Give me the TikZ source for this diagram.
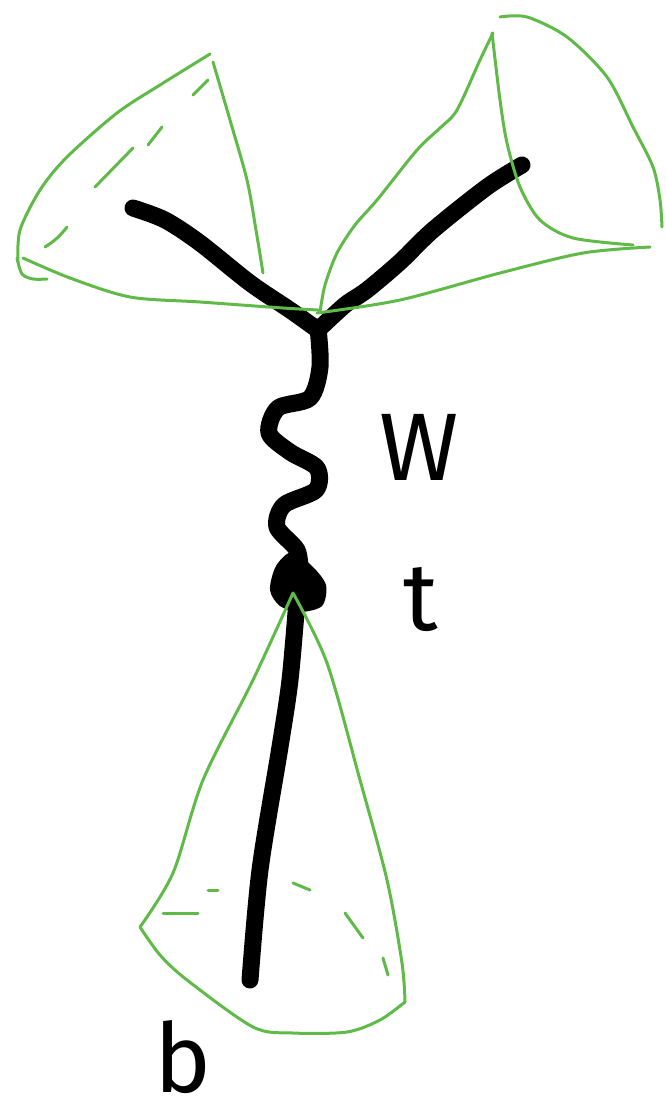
\documentclass[tikz,border=0pt]{standalone}
\usepackage{fontspec}
\setmainfont{Fira Sans}
\definecolor{conegreen}{RGB}{96,186,72}
\begin{document}
\begin{tikzpicture}[x=1pt,y=-1pt,
  quark/.style={line width=17pt,line cap=round,line join=round},
  cone/.style={conegreen,line width=3pt,line cap=round,line join=round},
  lbl/.style={font=\fontsize{96}{96}\selectfont,inner sep=0pt}]
\useasboundingbox (0,0) rectangle (665,1107);

% --- black particle lines ---
\draw[quark] plot[smooth] coordinates {(133,208) (165,220) (200,243) (250,283) (290,310) (318,330)};
\draw[quark] plot[smooth] coordinates {(318,330) (345,305) (367,290) (400,262) (433,230) (487,187) (522,165)};
\draw[quark] plot[smooth] coordinates {(318,328) (320,367) (310,398) (278,408) (269,433) (290,452) (317,468) (316,490) (284,505) (277,527) (297,550) (300,572)};
% top-quark blob
\fill plot[smooth cycle] coordinates {(292,552) (312,566) (326,585) (322,606) (300,612) (280,606) (270,590) (276,566)};
\draw[quark] plot[smooth] coordinates {(297,600) (290,680) (280,747) (260,870) (250,980)};

% --- upper left cone ---
\draw[cone] plot[smooth] coordinates {(318,310) (283,308) (200,302) (130,297) (70,278) (23,258)};
\draw[cone] plot[smooth] coordinates {(17,258) (22,274) (33,279) (47,279)};
\draw[cone] plot[smooth] coordinates {(18,262) (20,230) (40,190) (67,157) (117,113) (160,85) (210,54)};
\draw[cone] plot[smooth] coordinates {(213,62) (230,120) (247,180) (256,230) (263,273)};
\draw[cone] (193,95) -- (208,80);
\draw[cone] (148,145) -- (162,127);
\draw[cone] (95,187) -- (133,148);
\draw[cone] (45,247) to[bend right=10] (67,227);

% --- upper right cone ---
\draw[cone] plot[smooth] coordinates {(320,312) (325,285) (337,253) (355,225) (377,200) (417,150) (440,128) (457,110) (480,60) (493,33)};
\draw[cone] plot[smooth] coordinates {(492,33) (500,100) (507,143) (520,187) (540,220) (573,238) (633,245)};
\draw[cone] plot[smooth] coordinates {(317,313) (400,300) (500,273) (583,253) (650,247)};
\draw[cone] plot[smooth] coordinates {(500,17) (527,17) (567,37) (607,77) (633,127) (653,167) (660,200) (662,227)};

% --- lower cone ---
\draw[cone] plot[smooth] coordinates {(293,593) (253,680) (203,780) (173,873) (140,927)};
\draw[cone] plot[smooth] coordinates {(293,593) (327,663) (360,780) (387,880) (402,963) (405,1002)};
\draw[cone] plot[smooth] coordinates {(140,927) (160,955) (187,980) (253,1027) (293,1033) (347,1032) (380,1020) (405,1002)};
\draw[cone] (163,913) -- (198,913);
\draw[cone] (208,890) -- (218,890);
\draw[cone] (293,883) -- (310,890);
\draw[cone] (345,913) -- (363,938);
\draw[cone] (383,958) -- (388,975);

% --- labels ---
\node[lbl] (wlabel) at (419,447) {W};
\node[lbl] (tlabel) at (421,600) {t};
\node[lbl] (blabel) at (183,1057) {b};
\end{tikzpicture}
\end{document}
